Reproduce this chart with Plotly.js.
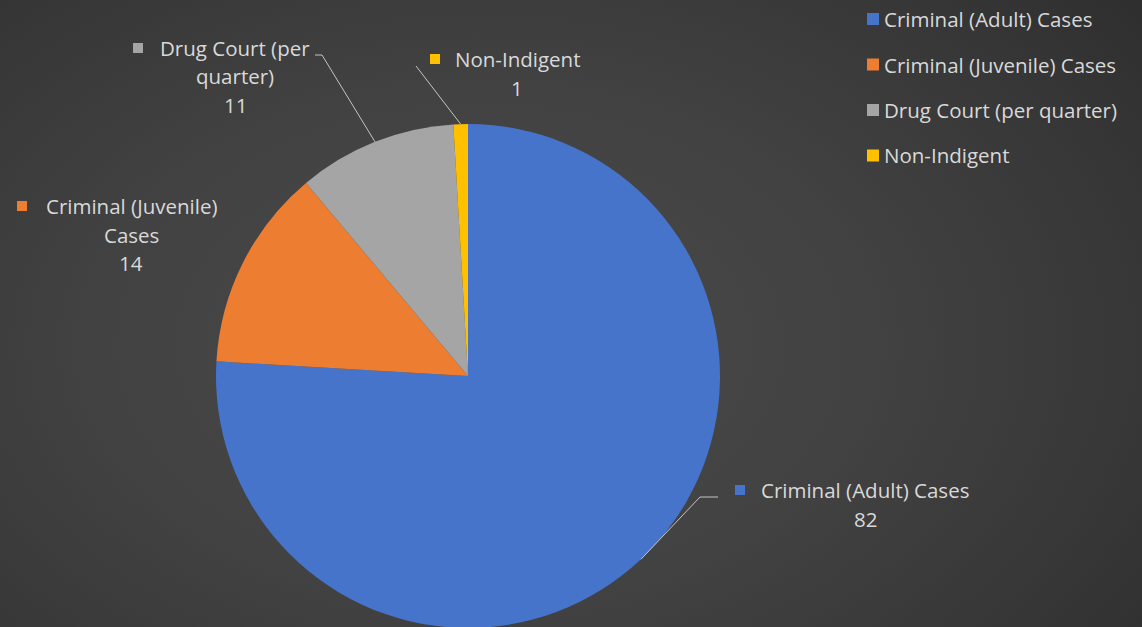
<!DOCTYPE html>
<html>
<head>
<meta charset="utf-8">
<script src="https://cdn.plot.ly/plotly-3.0.1.min.js"></script>
<style>
html,body{margin:0;padding:0;width:1142px;height:627px;overflow:hidden;}
body{background:radial-gradient(ellipse 75% 90% at 42% 55%, #4a4a4a 0%, #424242 45%, #363636 80%, #2e2e2e 100%);}
#chart{width:1142px;height:640px;}
</style>
</head>
<body>
<div id="chart"></div>
<script>
// ---- data ----
const categories = ["Criminal (Adult) Cases", "Criminal (Juvenile) Cases", "Drug Court (per quarter)", "Non-Indigent"];
const values = [82, 14, 11, 1];
const labelLines = [["Criminal (Adult) Cases"], ["Criminal (Juvenile)", "Cases"], ["Drug Court (per", "quarter)"], ["Non-Indigent"]];
const colors = ["#4674CA", "#ED7D31", "#A5A5A5", "#FFC000"];

// ---- layout geometry (pixels) ----
const W = 1142, H = 640;
const cx = 468, cy = 376, R = 252;
const px = x => x / W;
const py = y => 1 - y / H;
const textColor = "#d9d9d9";
const font = "Open Sans, Noto Sans, sans-serif";
const fsize = 20.5;
const lineGap = 28.5;
// label placement: centre x, first-line y, key centre x, elbow points
const labelPos = [
  {x: 865, y: 490, kx: 740, elbow: [[700, 497], [718, 497]]},
  {x: 131, y: 206, kx: 22, elbow: null},
  {x: 235, y: 48, kx: 138, elbow: [[322, 55], [315, 55]]},
  {x: 517, y: 59, kx: 435, elbow: [[416, 66]]}
];

const total = values.reduce((a, b) => a + b, 0);
const annotations = [];
const shapes = [];
let cum = 0;
values.forEach((v, i) => {
  const mid = (cum + v / 2) / total * 2 * Math.PI;
  cum += v;
  const lp = labelPos[i];
  const lines = labelLines[i].concat([String(v)]);
  lines.forEach((t, j) => {
    annotations.push({
      x: px(lp.x), y: py(lp.y + j * lineGap), xref: "paper", yref: "paper",
      text: t, showarrow: false, xanchor: "center", yanchor: "middle",
      font: {family: font, size: fsize, color: textColor}
    });
  });
  // key square for data label
  shapes.push({type: "rect", xref: "paper", yref: "paper",
    x0: px(lp.kx - 5), x1: px(lp.kx + 5), y0: py(lp.y - 5), y1: py(lp.y + 5),
    fillcolor: colors[i], line: {width: 0}});
  // leader line from slice edge
  if (lp.elbow) {
    let sx = cx + R * Math.sin(mid), sy = cy - R * Math.cos(mid);
    lp.elbow.forEach(p => {
      shapes.push({type: "line", xref: "paper", yref: "paper",
        x0: px(sx), y0: py(sy), x1: px(p[0]), y1: py(p[1]),
        line: {color: "#c4c4c4", width: 1}});
      sx = p[0]; sy = p[1];
    });
  }
  // legend entry
  const ly = 19 + i * 45.5;
  shapes.push({type: "rect", xref: "paper", yref: "paper",
    x0: px(867), x1: px(879), y0: py(ly - 6), y1: py(ly + 6),
    fillcolor: colors[i], line: {width: 0}});
  annotations.push({
    x: px(882), y: py(ly), xref: "paper", yref: "paper",
    text: categories[i], showarrow: false, xanchor: "left", yanchor: "middle",
    font: {family: font, size: fsize, color: textColor}
  });
});

const trace = {
  type: "pie",
  labels: categories,
  values: values,
  sort: false,
  direction: "clockwise",
  rotation: 0,
  marker: {colors: colors, line: {width: 0}},
  textinfo: "none",
  hoverinfo: "label+value",
  showlegend: false,
  domain: {x: [px(cx - R), px(cx + R)], y: [py(cy + R), py(cy - R)]}
};

const layout = {
  width: W, height: H,
  margin: {l: 0, r: 0, t: 0, b: 0},
  paper_bgcolor: "rgba(0,0,0,0)",
  plot_bgcolor: "rgba(0,0,0,0)",
  showlegend: false,
  annotations: annotations,
  shapes: shapes
};

Plotly.newPlot("chart", [trace], layout, {displayModeBar: false, staticPlot: true});
</script>
</body>
</html>
